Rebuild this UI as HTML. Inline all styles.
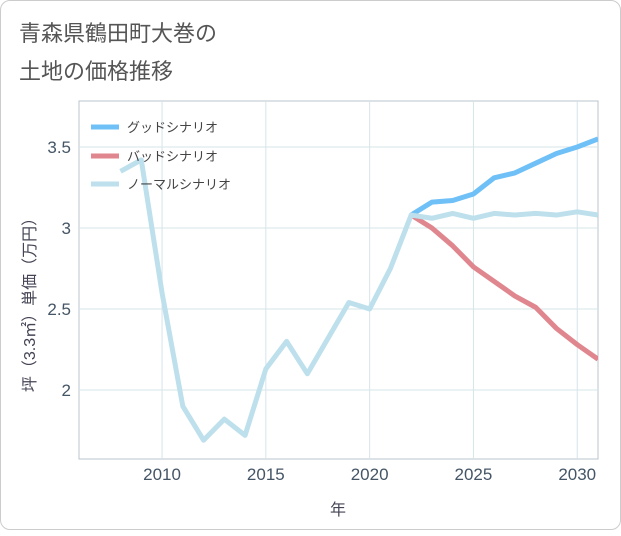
<!DOCTYPE html>
<html><head><meta charset="utf-8"><style>
body{margin:0;background:#fff;font-family:"Liberation Sans","Noto Sans CJK JP",sans-serif;}
#card{position:absolute;left:0;top:0;width:619px;height:528px;border:1px solid #ccc;border-radius:10px;background:#fff;}
</style></head><body>
<div id="card">
<svg width="621" height="530" id="svg">
<text x="18" y="40" font-size="22" fill="#555">青森県鶴田町大巻の</text>
<text x="18" y="78" font-size="22" fill="#555">土地の価格推移</text>
<rect x="78" y="100" width="519" height="358" fill="none" stroke="#b8c4cc"/>
<g id="grid"></g><g id="series"></g>
<text x="337" y="514" font-size="16" fill="#445" text-anchor="middle">年</text>
<text transform="translate(34,300) rotate(-90)" font-size="16" fill="#445" text-anchor="middle">坪（3.3㎡）単価（万円）</text>
<g>
<line x1="90" y1="126" x2="118" y2="126" stroke="#6ec0f7" stroke-width="5"/>
<text x="126" y="131" font-size="13" fill="#444">グッドシナリオ</text>
<line x1="90" y1="155" x2="118" y2="155" stroke="#e0868e" stroke-width="5"/>
<text x="126" y="160" font-size="13" fill="#444">バッドシナリオ</text>
<line x1="90" y1="183" x2="118" y2="183" stroke="#bde0ec" stroke-width="5"/>
<text x="126" y="188" font-size="13" fill="#444">ノーマルシナリオ</text>
</g>
</svg></div>
<script>
const normalYears=[2008,2009,2010,2011,2012,2013,2014,2015,2016,2017,2018,2019,2020,2021,2022,2023,2024,2025,2026,2027,2028,2029,2030,2031];
const normalValues=[3.35,3.42,2.6,1.9,1.69,1.82,1.72,2.13,2.30,2.10,2.32,2.54,2.50,2.75,3.08,3.06,3.09,3.06,3.09,3.08,3.09,3.08,3.10,3.08];
const scenarioYears=[2022,2023,2024,2025,2026,2027,2028,2029,2030,2031];
const goodValues=[3.08,3.16,3.17,3.21,3.31,3.34,3.40,3.46,3.50,3.55];
const badValues=[3.08,3.00,2.89,2.76,2.67,2.58,2.51,2.38,2.28,2.19];
const xTicks=[2010,2015,2020,2025,2030];
const yTicks=[2,2.5,3,3.5];
const NS="http://www.w3.org/2000/svg";
const X=v=>78+(v-2006)*(519/25);
const Y=v=>389-(v-2)*162;
const grid=document.getElementById('grid'),ser=document.getElementById('series');
function mk(tag,attrs,parent){const e=document.createElementNS(NS,tag);for(const k in attrs)e.setAttribute(k,attrs[k]);parent.appendChild(e);return e;}
xTicks.forEach(t=>{
 const l=mk('line',{x1:X(t),x2:X(t),y1:100,y2:458,stroke:'#d6e4ea'},grid);
 
 
 const tx=mk('text',{x:X(t),y:479,'font-size':17,fill:'#445566','text-anchor':'middle'},grid);tx.textContent=t;
 
 
});
yTicks.forEach(t=>{
 const l=mk('line',{x1:78,x2:597,y1:Y(t),y2:Y(t),stroke:'#d6e4ea'},grid);
 
 
 const tx=mk('text',{x:70,y:Y(t)+6,'font-size':17,fill:'#445566','text-anchor':'end'},grid);tx.textContent=t;
 
 
});
function line(xs,ys,color,name){
 const p=mk('polyline',{points:xs.map((x,i)=>X(x)+','+Y(ys[i])).join(' '),fill:'none',stroke:color,'stroke-width':5,'stroke-linejoin':'round'},ser);
 
 
}
const defs=mk('clipPath',{id:'c'},ser);mk('rect',{x:78,y:100,width:519,height:358},defs);
ser.setAttribute('clip-path','url(#c)');
line(scenarioYears,goodValues,'#6ec0f7','good-scenario-line');
line(scenarioYears,badValues,'#e0868e','bad-scenario-line');
line(normalYears,normalValues,'#bde0ec','normal-scenario-line');
</script>
</body></html>
